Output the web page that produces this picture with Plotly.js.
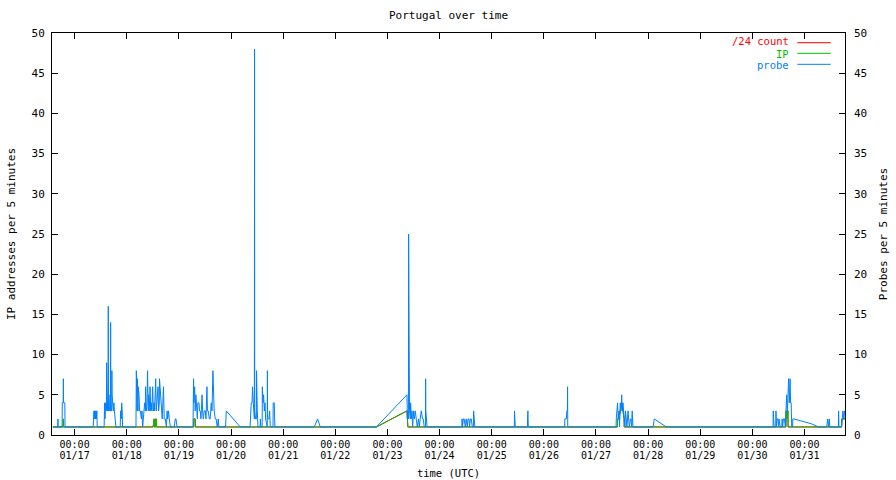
<!DOCTYPE html>
<html><head><meta charset="utf-8">
<script src="https://cdn.plot.ly/plotly-3.0.1.min.js"></script>
<style>html,body{margin:0;padding:0;background:#fff}#chart{width:896px;height:480px}</style>
</head><body><div id="chart"></div><script>
const YEAR = "2016-";

// probe series (probes per 5 minutes)
const probeTime = [
 "01-16 14:00","01-16 16:15","01-16 16:20","01-16 16:25","01-16 18:15","01-16 18:20","01-16 18:45","01-16 18:50","01-16 18:55","01-16 19:30","01-16 19:35",
 "01-17 08:35","01-17 08:40","01-17 08:45","01-17 08:55","01-17 09:00","01-17 09:10","01-17 09:15","01-17 09:30","01-17 09:40","01-17 09:50","01-17 10:00","01-17 10:15","01-17 10:25",
 "01-17 13:35","01-17 13:50","01-17 14:00","01-17 14:15","01-17 14:25","01-17 14:40","01-17 14:45","01-17 14:50","01-17 15:10","01-17 15:25","01-17 15:30","01-17 15:35","01-17 15:50","01-17 16:05","01-17 16:30","01-17 16:35","01-17 16:40","01-17 17:00","01-17 17:05","01-17 17:10","01-17 17:15","01-17 17:50","01-17 18:05","01-17 18:20","01-17 18:40","01-17 19:00",
 "01-17 21:00","01-17 21:10","01-17 21:30","01-17 21:40","01-17 21:55","01-17 22:05",
 "01-18 04:15","01-18 04:25","01-18 04:45","01-18 04:55","01-18 05:10","01-18 05:20","01-18 05:40","01-18 05:55","01-18 06:15","01-18 06:45",
 "01-18 07:00","01-18 07:20","01-18 07:45","01-18 08:15","01-18 08:35","01-18 08:40","01-18 09:00","01-18 09:20","01-18 09:35","01-18 09:55",
 "01-18 10:05","01-18 10:20","01-18 10:45","01-18 11:00","01-18 11:20","01-18 11:35","01-18 11:55","01-18 12:15","01-18 12:35","01-18 12:50",
 "01-18 13:20","01-18 13:35","01-18 13:55","01-18 14:25","01-18 14:40","01-18 15:00","01-18 15:05","01-18 15:25","01-18 15:45","01-18 16:05",
 "01-18 16:20","01-18 16:40","01-18 16:55","01-18 17:15","01-18 17:45","01-18 18:15","01-18 18:35","01-18 18:50","01-18 19:15","01-18 19:35",
 "01-18 20:05","01-18 21:55","01-18 22:00","01-18 22:20","01-18 22:40","01-18 23:10",
 "01-19 06:30","01-19 06:45","01-19 06:55","01-19 07:15","01-19 07:30","01-19 07:50","01-19 08:10","01-19 08:30","01-19 08:45","01-19 09:15",
 "01-19 09:30","01-19 09:50","01-19 10:10","01-19 10:40","01-19 10:55","01-19 11:15","01-19 11:40","01-19 12:10","01-19 12:30","01-19 12:55",
 "01-19 13:10","01-19 13:30","01-19 14:00","01-19 14:25","01-19 14:55","01-19 15:15","01-19 15:40","01-19 15:55","01-19 16:15","01-19 16:45",
 "01-19 17:10","01-19 17:40","01-19 18:10","01-19 18:25",
 "01-19 21:30","01-19 21:50","01-20 04:15",
 "01-20 08:45","01-20 08:55","01-20 09:00","01-20 09:20","01-20 09:40","01-20 09:55","01-20 10:15","01-20 10:25","01-20 10:45","01-20 10:50",
 "01-20 10:55","01-20 11:20","01-20 11:40","01-20 11:45","01-20 11:50","01-20 12:05","01-20 12:25","01-20 13:25","01-20 13:30","01-20 13:45",
 "01-20 14:20","01-20 14:25","01-20 14:45","01-20 15:00","01-20 15:20","01-20 15:40","01-20 15:55","01-20 16:40","01-20 16:45","01-20 16:50",
 "01-20 17:30","01-20 17:45","01-20 18:05","01-20 19:20","01-20 19:25","01-20 19:55","01-20 20:10",
 "01-21 14:20","01-21 15:50","01-21 17:05",
 "01-22 18:55","01-23 09:00","01-23 09:10","01-23 09:25","01-23 09:35","01-23 09:40","01-23 09:45","01-23 09:50","01-23 10:10","01-23 10:30",
 "01-23 10:40","01-23 11:00","01-23 11:20","01-23 11:35","01-23 12:05","01-23 12:25","01-23 12:50","01-23 13:15","01-23 13:45","01-23 14:20",
 "01-23 14:40","01-23 15:05","01-23 15:35","01-23 16:10","01-23 16:30","01-23 16:55","01-23 17:30","01-23 17:35","01-23 17:40","01-23 18:15",
 "01-24 10:15","01-24 10:20","01-24 10:35","01-24 10:55","01-24 11:20","01-24 11:50","01-24 12:15","01-24 12:45","01-24 13:05","01-24 13:30",
 "01-24 13:50","01-24 14:10","01-24 14:35","01-24 15:05","01-24 15:35","01-24 15:40","01-24 15:55","01-24 16:15",
 "01-25 10:25","01-25 10:30","01-25 10:40","01-25 10:50","01-25 16:25","01-25 16:30","01-25 16:40","01-25 16:50",
 "01-26 09:35","01-26 09:40","01-26 10:20","01-26 10:35","01-26 10:50","01-26 10:55","01-26 11:00",
 "01-27 09:15","01-27 09:20","01-27 09:55","01-27 10:15","01-27 10:35","01-27 10:50","01-27 11:10","01-27 11:30","01-27 11:50","01-27 12:05",
 "01-27 12:25","01-27 12:40","01-27 12:55","01-27 13:20","01-27 13:35","01-27 13:55","01-27 14:15","01-27 14:45","01-27 15:00","01-27 15:20",
 "01-27 15:50","01-27 16:05","01-27 16:25","01-27 16:40","01-27 17:00",
 "01-28 02:15","01-28 02:50","01-28 08:20",
 "01-30 09:20","01-30 09:30","01-30 09:35","01-30 10:00","01-30 10:45","01-30 10:50","01-30 11:05","01-30 11:20","01-30 11:45","01-30 12:05",
 "01-30 12:15","01-30 12:50","01-30 13:35","01-30 13:40","01-30 13:55","01-30 14:15","01-30 14:45","01-30 15:10","01-30 15:30","01-30 15:45",
 "01-30 16:05","01-30 16:20","01-30 16:40","01-30 17:00","01-30 17:20","01-30 17:35","01-30 17:50","01-30 18:05","01-30 18:30","01-30 18:35",
 "01-30 19:00","01-31 03:05","01-31 06:25",
 "01-31 10:10","01-31 10:20","01-31 10:30","01-31 10:40","01-31 11:00","01-31 11:10","01-31 11:25","01-31 11:35","01-31 15:35","01-31 15:40",
 "01-31 15:50","01-31 17:00","01-31 17:10","01-31 17:30","01-31 17:40","01-31 17:55","01-31 18:10","01-31 18:25","01-31 18:40","01-31 18:55"
];
const probeValue = [
 1,1,2,1,1,4,4,7,4,4,1,
 1,2,1,3,2,3,2,3,2,3,2,3,1,
 1,4,2,4,3,3,9,3,3,3,16,3,5,3,3,14,4,3,3,8,5,3,4,3,2,1,
 1,3,2,4,3,1,
 1,8,3,7,3,6,5,3,3,2,
 3,1,3,4,3,6,3,4,8,3,
 5,3,6,3,4,3,6,3,4,3,
 7,3,4,6,3,4,7,5,3,3,
 2,5,6,2,2,1,3,2,3,2,
 1,1,2,2,2,1,
 1,7,4,6,3,5,3,2,4,4,
 3,3,2,5,3,2,3,3,2,6,
 3,3,2,2,4,3,8,3,3,2,
 2,1,2,1,
 1,3,1,
 1,2,4,4,4,6,4,2,2,48,
 3,2,2,8,3,3,1,1,2,1,
 1,6,4,5,3,4,2,1,8,2,
 2,3,1,1,4,4,1,
 1,2,1,
 1,5,2,3,2,3,25,3,3,2,
 4,2,3,1,3,2,3,2,1,2,
 1,2,3,2,2,1,1,7,3,1,
 1,2,1,2,2,1,2,1,2,2,
 1,2,2,1,1,3,2,1,
 1,3,2,1,1,2,3,1,
 1,2,2,3,3,6,1,
 1,2,4,2,3,1,4,3,5,3,
 4,3,2,1,3,2,1,3,2,1,
 2,2,1,3,1,
 1,2,1,
 1,1,3,1,1,3,1,2,2,1,
 2,1,1,2,1,2,2,1,3,5,
 3,6,7,4,7,4,4,1,1,2,
 2,1.4,1,
 1,2,1,2,1,2,2,1,1,3,
 1,1,2,2,3,2,3,3,2,2
];

// IP addresses per 5 minutes
const ipTime = [
 "01-16 14:00","01-16 18:45","01-16 18:50","01-16 18:55",
 "01-18 12:10","01-18 12:15","01-18 12:35","01-18 12:40","01-18 13:15","01-18 13:20","01-18 13:35","01-18 13:40",
 "01-19 06:50","01-19 06:55","01-19 07:30","01-19 07:35",
 "01-22 18:55","01-23 09:00","01-23 09:10","01-23 09:25",
 "01-27 09:50","01-27 09:55","01-27 10:35","01-27 11:10","01-27 11:50","01-27 12:25","01-27 12:55","01-27 13:00",
 "01-30 15:25","01-30 15:30","01-30 15:45","01-30 16:05","01-30 16:20","01-30 16:25",
 "01-31 17:05","01-31 17:10","01-31 18:10","01-31 18:55"
];
const ipValue = [
 1,1,2,1,
 1,2,2,1,1,2,2,1,
 1,2,2,1,
 1,3,2,1,
 1,2,2,3,4,3,2,1,
 1,3,3,2,3,1,
 1,2,2,2
];
// /24 count coincides with the IP series
const slash24Time = ipTime;
const slash24Value = ipValue;

const tickDays = ["01-17","01-18","01-19","01-20","01-21","01-22","01-23","01-24","01-25","01-26","01-27","01-28","01-29","01-30","01-31"];
const tickTimeLabel = "00:00";
const tickDateLabels = ["01/17","01/18","01/19","01/20","01/21","01/22","01/23","01/24","01/25","01/26","01/27","01/28","01/29","01/30","01/31"];

const seriesNames = ["/24 count","IP","probe"];
const seriesColors = ["#ff0000","#00c000","#0080ff"];

if (probeTime.length !== probeValue.length) console.error("probe length mismatch", probeTime.length, probeValue.length);
if (ipTime.length !== ipValue.length) console.error("ip length mismatch");

const full = a => a.map(s => YEAR + s);
const xRange = [YEAR + "01-16 13:36", YEAR + "01-31 18:37"];
const tickVals = tickDays.map(d => YEAR + d + " 00:00");
const FAM = "DejaVu Sans Mono, Liberation Mono, monospace";
const FONT = {family: FAM, size: 11, color: "#000"};
const XTICKFONT = {family: FAM, size: 10, color: "#000"};

const traces = [
  {x: full(slash24Time), y: slash24Value, mode: "lines", name: seriesNames[0], line: {color: seriesColors[0], width: 1}, xaxis: "x", yaxis: "y"},
  {x: full(ipTime), y: ipValue, mode: "lines", name: seriesNames[1], line: {color: seriesColors[1], width: 1}, xaxis: "x", yaxis: "y"},
  {x: full(probeTime), y: probeValue, mode: "lines", name: seriesNames[2], line: {color: seriesColors[2], width: 1}, xaxis: "x2", yaxis: "y2"}
];

// legend drawn gnuplot-style: label then line sample
const legTextY = [0.9789, 0.9490, 0.9192];
const legLineY = [0.9759, 0.9495, 0.9221];
const annotations = [];
const shapes = [];
seriesNames.forEach((n, i) => {
  annotations.push({xref: "paper", yref: "paper", x: 0.9305, y: legTextY[i], xanchor: "right", yanchor: "middle",
    text: n, showarrow: false, borderpad: 0, font: {family: FAM, size: 10.5, color: seriesColors[i]}});
  shapes.push({type: "line", xref: "paper", yref: "paper", x0: 0.9399, x1: 0.982, y0: legLineY[i], y1: legLineY[i],
    line: {color: seriesColors[i], width: 1}, layer: "above"});
});

const baseX = {
  type: "date", range: xRange, autorange: false, showgrid: false, zeroline: false,
  tickmode: "array", tickvals: tickVals, tickfont: XTICKFONT
};
const layout = {
  width: 896, height: 480,
  margin: {l: 52, r: 51, t: 33, b: 45, pad: 0},
  paper_bgcolor: "#ffffff", plot_bgcolor: "#ffffff",
  showlegend: false,
  title: {text: "Portugal over time", font: FONT, x: 0.5, xref: "paper", xanchor: "center", y: 1 - 15 / 480, yanchor: "middle"},
  xaxis: Object.assign({}, baseX, {
    ticktext: tickDays.map(() => tickTimeLabel),
    ticks: "inside", ticklen: 6, tickwidth: 1, tickcolor: "#000",
    showline: true, linecolor: "#000", linewidth: 1, mirror: "ticks",
    ticklabelstandoff: 0,
    title: {text: "time (UTC)", font: {family: FAM, size: 10.5, color: "#000"}, standoff: 20}, automargin: false
  }),
  xaxis2: Object.assign({}, baseX, {
    overlaying: "x", side: "bottom", ticktext: tickDateLabels,
    ticks: "", showline: false, ticklabelstandoff: 13, automargin: false
  }),
  yaxis: {
    range: [0, 50], autorange: false, tickmode: "linear", tick0: 0, dtick: 5,
    ticks: "inside", ticklen: 6, tickwidth: 1, tickcolor: "#000",
    showline: true, linecolor: "#000", linewidth: 1, mirror: "ticks",
    showgrid: false, zeroline: false, tickfont: FONT, ticklabelstandoff: 4,
    title: {text: "IP addresses per 5 minutes", font: FONT, standoff: 13}, automargin: false
  },
  yaxis2: {
    overlaying: "y", side: "right", range: [0, 50], autorange: false, tickmode: "linear", tick0: 0, dtick: 5,
    ticks: "", showline: false, showgrid: false, zeroline: false, tickfont: FONT, ticklabelstandoff: 8,
    title: {text: "Probes per 5 minutes", font: FONT, standoff: 13}, automargin: false
  },
  annotations: annotations,
  shapes: shapes
};

Plotly.newPlot("chart", traces, layout, {staticPlot: true, displayModeBar: false});
</script></body></html>
